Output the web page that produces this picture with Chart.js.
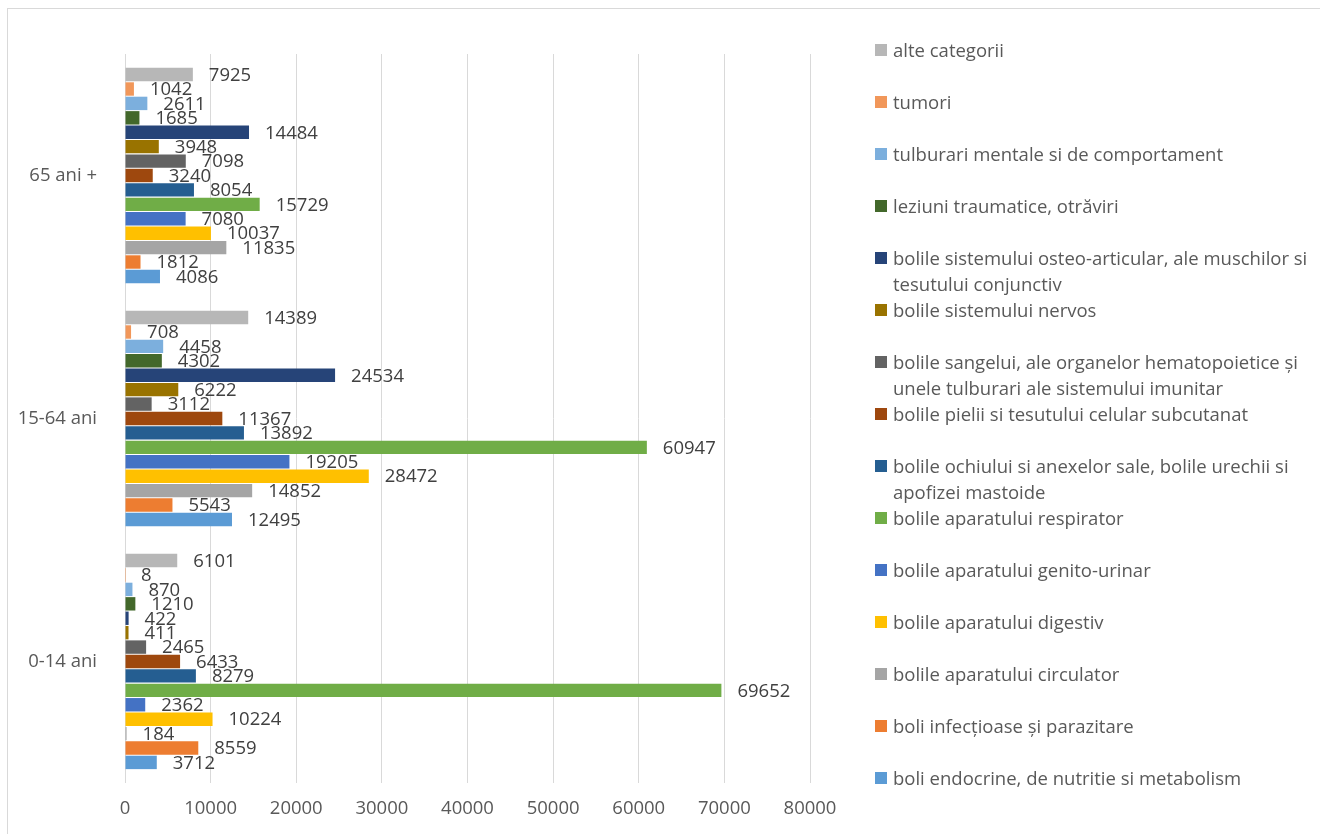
<!DOCTYPE html>
<html>
<head>
<meta charset="utf-8">
<script src="https://cdn.jsdelivr.net/npm/chart.js@4/dist/chart.umd.min.js"></script>
<style>
  html, body { margin: 0; padding: 0; background: #ffffff; }
  #wrap { position: relative; width: 1320px; height: 834px; overflow: hidden; }
  #frame { position: absolute; left: 7px; top: 8px; width: 1330px; height: 840px; border: 1px solid #d9d9d9; box-sizing: border-box; }
  #c { position: absolute; left: 0; top: 0; }
  #legend { position: absolute; left: 0; top: 0; font-family: "Open Sans", sans-serif; font-size: 18.5px; color: #595959; }
  .li { position: absolute; left: 875px; width: 440px; line-height: 26px; }
  .sw { position: absolute; left: 0; top: 7px; width: 12px; height: 12px; }
  .tx { position: absolute; left: 18px; width: 425px; white-space: normal; }
</style>
</head>
<body>
<div id="wrap">
  <div id="frame"></div>
  <canvas id="c" width="1320" height="834"></canvas>
  <div id="legend"></div>
</div>
<script>
const categories = ['0-14 ani', '15-64 ani', '65 ani +'];

const seriesNames = [
  'boli endocrine, de nutritie si metabolism',
  'boli infecțioase și parazitare',
  'bolile aparatului circulator',
  'bolile aparatului digestiv',
  'bolile aparatului genito-urinar',
  'bolile aparatului respirator',
  'bolile ochiului si anexelor sale, bolile urechii si apofizei mastoide',
  'bolile pielii si tesutului celular subcutanat',
  'bolile sangelui, ale organelor hematopoietice și unele tulburari ale sistemului imunitar',
  'bolile sistemului nervos',
  'bolile sistemului osteo-articular, ale muschilor si tesutului conjunctiv',
  'leziuni traumatice, otrăviri',
  'tulburari mentale si de comportament',
  'tumori',
  'alte categorii'
];

const seriesColors = [
  '#5B9BD5', '#ED7D31', '#A5A5A5', '#FFC000', '#4472C4', '#70AD47', '#255E91',
  '#9E480E', '#636363', '#997300', '#264478', '#43682B', '#7CAFDD', '#F1975A', '#B7B7B7'
];

// values per series: [0-14 ani, 15-64 ani, 65 ani +]
const endocrine   = [3712, 12495, 4086];
const infectioase = [8559, 5543, 1812];
const circulator  = [184, 14852, 11835];
const digestiv    = [10224, 28472, 10037];
const genito      = [2362, 19205, 7080];
const respirator  = [69652, 60947, 15729];
const ochi        = [8279, 13892, 8054];
const piele       = [6433, 11367, 3240];
const sange       = [2465, 3112, 7098];
const nervos      = [411, 6222, 3948];
const osteo       = [422, 24534, 14484];
const leziuni     = [1210, 4302, 1685];
const mentale     = [870, 4458, 2611];
const tumori      = [8, 708, 1042];
const alte        = [6101, 14389, 7925];

const seriesValues = [endocrine, infectioase, circulator, digestiv, genito, respirator, ochi,
  piele, sange, nervos, osteo, leziuni, mentale, tumori, alte];

const xTicks = [0, 10000, 20000, 30000, 40000, 50000, 60000, 70000, 80000];

const FONT = '"Open Sans", sans-serif';
const FS = 18.5;

// datasets listed last-to-first so the first series sits at the bottom of each group
const datasets = [];
for (let i = seriesNames.length - 1; i >= 0; i--) {
  datasets.push({
    label: seriesNames[i],
    data: seriesValues[i],
    backgroundColor: seriesColors[i],
    borderWidth: 0,
    categoryPercentage: 0.89,
    barPercentage: 0.93
  });
}

const valueLabels = {
  id: 'valueLabels',
  afterDatasetsDraw(chart) {
    const ctx = chart.ctx;
    ctx.save();
    ctx.font = FS + 'px ' + FONT;
    ctx.fillStyle = '#404040';
    ctx.textAlign = 'left';
    ctx.textBaseline = 'middle';
    chart.data.datasets.forEach((ds, di) => {
      const meta = chart.getDatasetMeta(di);
      meta.data.forEach((bar, j) => {
        ctx.fillText(String(ds.data[j]), bar.x + 16, bar.y + 1);
      });
    });
    ctx.restore();
  }
};

new Chart(document.getElementById('c'), {
  type: 'bar',
  data: { labels: categories, datasets },
  options: {
    indexAxis: 'y',
    responsive: false,
    animation: false,
    layout: { padding: { left: 0, top: 54, right: 510, bottom: 0 } },
    plugins: { legend: { display: false }, tooltip: { enabled: false } },
    scales: {
      y: {
        reverse: true,
        grid: { display: false },
        border: { display: false },
        ticks: { color: '#595959', font: { family: FONT, size: FS }, padding: 20 },
        afterFit(s) { s.width = 125; }
      },
      x: {
        min: 0, max: 80000,
        afterBuildTicks(s) { s.ticks = xTicks.map(v => ({ value: v })); },
        grid: { color: '#d9d9d9', lineWidth: 1, drawTicks: false },
        border: { display: false },
        ticks: {
          color: '#595959', font: { family: FONT, size: FS }, padding: 15,
          callback: (v) => String(v)
        },
        afterFit(s) { s.height = 51; }
      }
    }
  },
  plugins: [valueLabels]
});

// HTML legend (reverse order, like the reference)
const leg = document.getElementById('legend');
for (let k = 0; k < seriesNames.length; k++) {
  const i = seriesNames.length - 1 - k;
  const li = document.createElement('div');
  li.className = 'li';
  li.style.top = (50 + 52 * k - 13) + 'px';
  const sw = document.createElement('div');
  sw.className = 'sw';
  sw.style.background = seriesColors[i];
  const tx = document.createElement('div');
  tx.className = 'tx';
  tx.textContent = seriesNames[i];
  li.appendChild(sw);
  li.appendChild(tx);
  leg.appendChild(li);
}
</script>
</body>
</html>
